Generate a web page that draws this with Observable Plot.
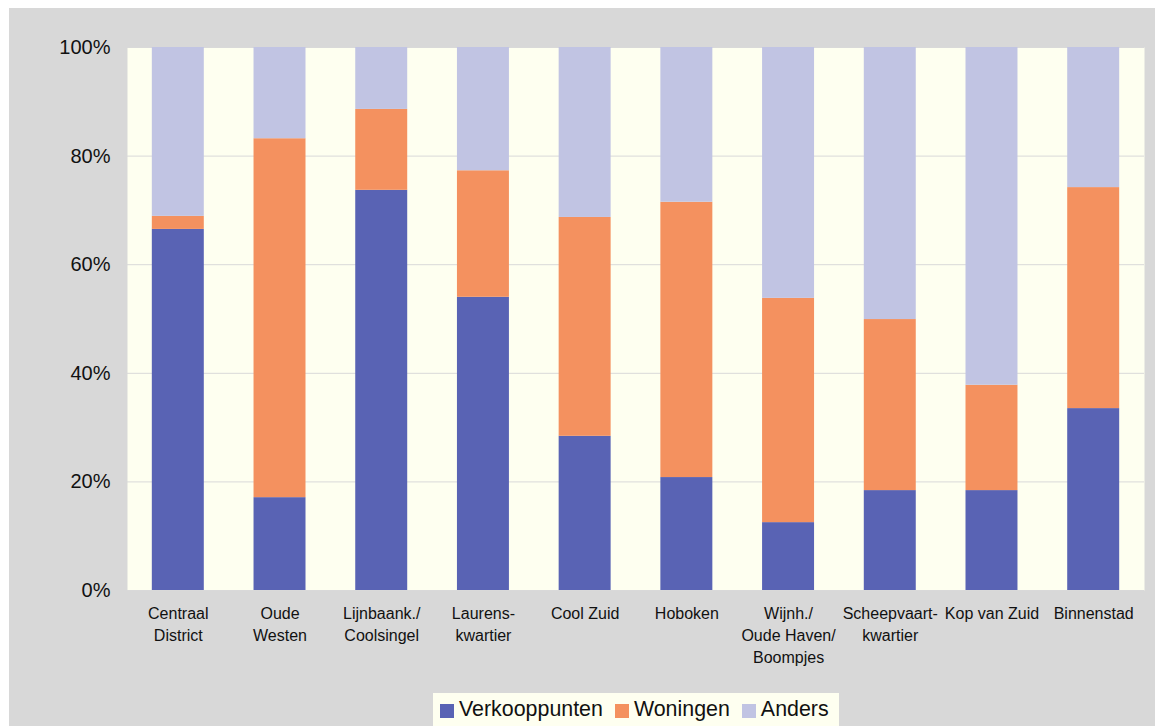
<!DOCTYPE html>
<html>
<head>
<meta charset="utf-8">
<script src="https://cdn.jsdelivr.net/npm/d3@7"></script>
<script src="https://cdn.jsdelivr.net/npm/@observablehq/plot@0.6"></script>
<style>
  html, body { margin: 0; padding: 0; background: #ffffff; }
  #panel {
    position: absolute; left: 9px; top: 8px; width: 1146px; height: 718px;
    background: #d8d8d8; overflow: hidden;
    font-family: "Liberation Sans", Arial, Helvetica, sans-serif; color: #111;
  }
  #chart svg { display: block; }
  #legend {
    position: absolute; left: 424px; top: 685px; width: 406px; height: 33px;
    background: #fefff0; display: flex; align-items: center; padding-left: 7px;
    box-sizing: border-box; font-size: 21.4px;
  }
  .item { display: flex; align-items: center; margin-right: 12px; }
  .sw { width: 14px; height: 14px; margin-right: 5px; margin-top: 2px; }
</style>
</head>
<body>
<div id="panel">
  <div id="chart"></div>
  <div id="legend"></div>
</div>
<script>
// Districts (multi-line labels) and share per function, in percent
const districts = [
  "Centraal\nDistrict", "Oude\nWesten", "Lijnbaank./\nCoolsingel", "Laurens-\nkwartier",
  "Cool Zuid", "Hoboken", "Wijnh./\nOude Haven/\nBoompjes", "Scheepvaart-\nkwartier",
  "Kop van Zuid", "Binnenstad"
];
const verkooppunten = [66.5, 17.1, 73.7, 54.0, 28.4, 20.8, 12.5, 18.4, 18.4, 33.5];
const woningen      = [2.4, 66.1, 14.9, 23.3, 40.3, 50.7, 41.3, 31.5, 19.4, 40.7];
const anders        = [31.1, 16.8, 11.4, 22.7, 31.3, 28.5, 46.2, 50.1, 62.2, 25.8];

const series = ["Verkooppunten", "Woningen", "Anders"];
const colors = ["#5963b4", "#f4915f", "#c1c4e3"];
const yTicks = [0, 20, 40, 60, 80, 100];

const values = [verkooppunten, woningen, anders];
const rows = [];
series.forEach((s, i) => {
  districts.forEach((d, j) => rows.push({district: d, series: s, value: values[i][j]}));
});

const chart = Plot.plot({
  width: 1146,
  height: 670,
  marginTop: 39,
  marginRight: 11,
  marginBottom: 88,
  marginLeft: 118,
  style: {background: "transparent", fontFamily: "'Liberation Sans', Arial, sans-serif", color: "#111"},
  x: {domain: districts, paddingInner: 0.489, paddingOuter: 0.244, round: false, label: null},
  y: {domain: [0, 100], label: null},
  color: {domain: series, range: colors},
  marks: [
    Plot.frame({fill: "#fefff0", stroke: null}),
    Plot.gridY(yTicks, {stroke: "#d9d9d9", strokeOpacity: 1, strokeWidth: 1}),
    Plot.barY(rows, {x: "district", y: "value", fill: "series", order: series}),
    Plot.axisY(yTicks, {tickSize: 0, tickPadding: 17, fontSize: 20, tickFormat: d => d + "%"}),
    Plot.axisX({tickSize: 0, tickPadding: 13, fontSize: 16, lineHeight: 1.38})
  ]
});
document.getElementById("chart").appendChild(chart);

const legend = document.getElementById("legend");
series.forEach((s, i) => {
  const item = document.createElement("div");
  item.className = "item";
  const sw = document.createElement("div");
  sw.className = "sw";
  sw.style.background = colors[i];
  const label = document.createElement("span");
  label.textContent = s;
  item.appendChild(sw);
  item.appendChild(label);
  legend.appendChild(item);
});
</script>
</body>
</html>
